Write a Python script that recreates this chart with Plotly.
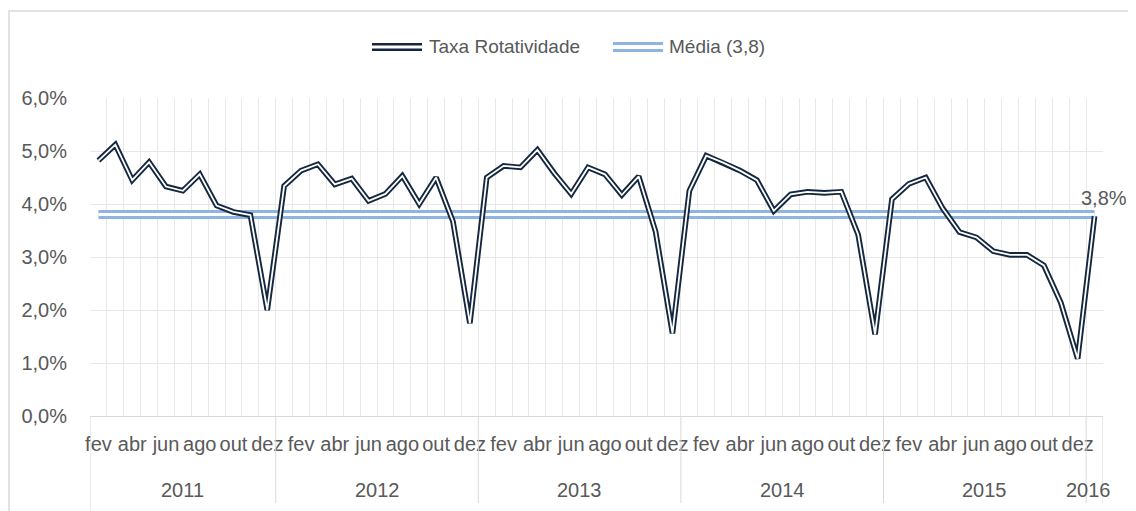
import plotly.graph_objects as go

# ---------------- data ----------------
meses = (['fev', 'mar', 'abr', 'mai', 'jun', 'jul', 'ago', 'set', 'out', 'nov', 'dez']
         + ['jan', 'fev', 'mar', 'abr', 'mai', 'jun', 'jul', 'ago', 'set', 'out', 'nov', 'dez'] * 4
         + ['jan'])
anos = ['2011'] * 11 + ['2012'] * 12 + ['2013'] * 12 + ['2014'] * 12 + ['2015'] * 12 + ['2016']
taxa = [
    4.82, 5.12, 4.45, 4.79, 4.33, 4.25, 4.56, 3.97, 3.85, 3.79, 2.00,              # 2011
    4.34, 4.63, 4.75, 4.37, 4.48, 4.06, 4.19, 4.53, 4.00, 4.50, 3.67, 1.75,        # 2012
    4.50, 4.72, 4.69, 5.02, 4.58, 4.19, 4.69, 4.56, 4.17, 4.52, 3.48, 1.56,        # 2013
    4.25, 4.91, 4.78, 4.63, 4.45, 3.87, 4.18, 4.23, 4.21, 4.23, 3.42, 1.54,        # 2014
    4.09, 4.38, 4.50, 3.92, 3.47, 3.37, 3.11, 3.04, 3.04, 2.84, 2.14, 1.08,        # 2015
    3.77,                                                                          # 2016
]
media = 3.8
serie_nomes = ['Taxa Rotatividade', 'Média (3,8)']
y_ticks = [0, 1, 2, 3, 4, 5, 6]

# ---------------- style ----------------
FONT = 'Liberation Sans, Arial, sans-serif'
TXT = '#595959'
DARK = '#14273F'
BLUE = '#8DB4E2'
GRID = '#E8E8E8'
# the page body has an 8px margin, so the figure is sized to fit the window
OFF = 8
W, H = 1136 - OFF, 511 - OFF
PL, PR, PT, PB = 90, 1103, 98, 416          # plot area in window pixels
L, T = PL - OFF, PT - OFF
R, B = W - (PR - OFF), H - (PB - OFF)


def px_x(px):
    return (px - PL) / (PR - PL)


def px_y(py):
    return (PB - py) / (PB - PT)


def pct(v):
    return f'{v:.1f}%'.replace('.', ',')


x = list(range(len(taxa)))
media_y = [media] * len(x)

fig = go.Figure()
fig.add_trace(go.Scatter(x=x, y=media_y, mode='lines', name=serie_nomes[1],
                         line=dict(color=BLUE, width=9), showlegend=False, hoverinfo='skip'))
fig.add_trace(go.Scatter(x=x, y=media_y, mode='lines', line=dict(color='white', width=3),
                         showlegend=False, hoverinfo='skip'))
fig.add_trace(go.Scatter(x=x, y=taxa, mode='lines', name=serie_nomes[0],
                         line=dict(color=DARK, width=5.6), showlegend=False))
fig.add_trace(go.Scatter(x=x, y=taxa, mode='lines', line=dict(color='white', width=1.8),
                         showlegend=False, hoverinfo='skip'))

shapes = []
annotations = []

# year separators and year labels (multi-level category axis)
bounds = [-0.5]
for i in range(1, len(anos)):
    if anos[i] != anos[i - 1]:
        bounds.append(i - 0.5)
bounds.append(len(anos) - 0.5)
for j, b in enumerate(bounds):
    shapes.append(dict(type='line', xref='x', yref='paper', x0=b, x1=b,
                       y0=0, y1=px_y(511) if j == 0 else px_y(503),
                       line=dict(color='#D9D9D9', width=1)))
unique_years = []
for a in anos:
    if a not in unique_years:
        unique_years.append(a)
for a in unique_years:
    idx = [i for i, v in enumerate(anos) if v == a]
    cx = sum(idx) / len(idx)
    annotations.append(dict(x=cx, y=px_y(490), xref='x', yref='paper', text=a,
                            showarrow=False, xanchor='center', yanchor='middle',
                            xshift=-6 if len(idx) == 1 else 0,
                            font=dict(family=FONT, size=20, color=TXT)))

# end label of the average line
annotations.append(dict(x=x[-1], y=media, xref='x', yref='y',
                        text=pct(media), showarrow=False,
                        xanchor='center', yanchor='middle', xshift=9, yshift=17,
                        font=dict(family=FONT, size=20, color=TXT)))

# legend (double-line symbols)
leg_y = px_y(47)
shapes += [
    dict(type='line', xref='paper', yref='paper', x0=px_x(372), x1=px_x(422), y0=leg_y, y1=leg_y,
         line=dict(color=DARK, width=8)),
    dict(type='line', xref='paper', yref='paper', x0=px_x(372), x1=px_x(422), y0=leg_y, y1=leg_y,
         line=dict(color='white', width=3)),
    dict(type='line', xref='paper', yref='paper', x0=px_x(613), x1=px_x(663), y0=leg_y, y1=leg_y,
         line=dict(color=BLUE, width=10)),
    dict(type='line', xref='paper', yref='paper', x0=px_x(613), x1=px_x(663), y0=leg_y, y1=leg_y,
         line=dict(color='white', width=4)),
]
annotations += [
    dict(x=px_x(427), y=leg_y, xref='paper', yref='paper', text=serie_nomes[0], showarrow=False,
         xanchor='left', yanchor='middle', font=dict(family=FONT, size=19, color=TXT)),
    dict(x=px_x(667), y=leg_y, xref='paper', yref='paper', text=serie_nomes[1], showarrow=False,
         xanchor='left', yanchor='middle', font=dict(family=FONT, size=19, color=TXT)),
]

# chart-area border
shapes.append(dict(type='rect', xref='paper', yref='paper', x0=px_x(9), x1=px_x(1150),
                   y0=px_y(525), y1=px_y(11), line=dict(color='#D9D9D9', width=1.5),
                   layer='below'))

fig.update_layout(
    width=W, height=H,
    margin=dict(l=L, r=R, t=T, b=B, pad=0),
    paper_bgcolor='white', plot_bgcolor='white',
    showlegend=False,
    shapes=shapes,
    annotations=annotations,
    font=dict(family=FONT, color=TXT, size=20),
)
fig.update_xaxes(
    range=[-0.5, len(x) - 0.5],
    tickmode='array', tickvals=x[0::2], ticktext=meses[0::2], tickangle=0,
    showgrid=False, zeroline=False, showline=True, linecolor='#D9D9D9', linewidth=1,
    ticks='', ticklabelstandoff=10,
    tickfont=dict(family=FONT, size=20, color=TXT),
    minor=dict(tick0=-0.5, dtick=1, showgrid=True, gridcolor=GRID, gridwidth=1),
    fixedrange=True,
)
fig.update_yaxes(
    range=[0, 6], tickmode='array', tickvals=y_ticks, ticktext=[pct(v) for v in y_ticks],
    showgrid=True, gridcolor=GRID, gridwidth=1, zeroline=False, showline=False,
    ticks='', ticklabelstandoff=22,
    tickfont=dict(family=FONT, size=20, color=TXT),
    fixedrange=True,
)

fig.write_html('out.html')
